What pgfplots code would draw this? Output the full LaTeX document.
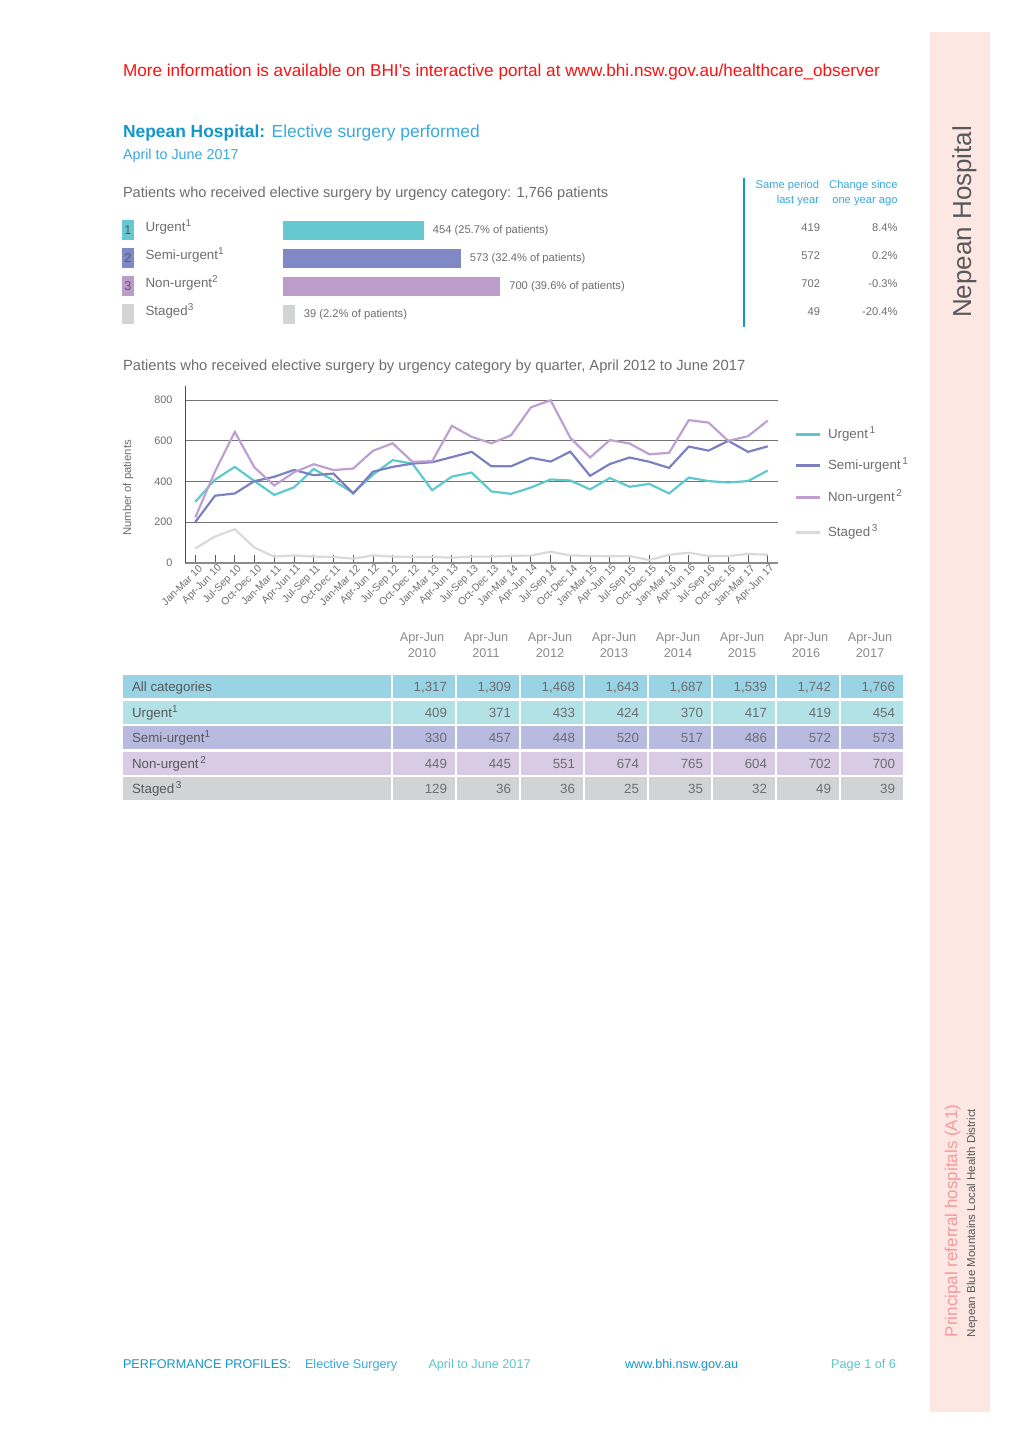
\documentclass[border=0pt]{standalone}
\usepackage{pgfplots}
\usepackage{pgfplotstable}
\pgfplotsset{compat=1.18}
\usepackage{fontspec}
\setmainfont{Liberation Sans}
\newcommand{\fs}[1]{\fontsize{#1}{#1}\selectfont}
\definecolor{urgC}{HTML}{66C8D1}
\definecolor{semiC}{HTML}{8088C5}
\definecolor{nonC}{HTML}{BB9CCB}
\definecolor{stgC}{HTML}{D3D4D6}
\definecolor{urgL}{HTML}{5CC9CF}
\definecolor{semiL}{HTML}{7A80C2}
\definecolor{nonL}{HTML}{BE9FD2}
\definecolor{stgL}{HTML}{DADADA}
\definecolor{allR}{HTML}{9AD3E4}
\definecolor{urgR}{HTML}{B3E2E6}
\definecolor{semiR}{HTML}{B9BAE0}
\definecolor{nonR}{HTML}{D9CBE3}
\definecolor{stgR}{HTML}{D2D3D5}
\definecolor{txt}{HTML}{6D6E71}
\definecolor{dtxt}{HTML}{58595B}
\definecolor{blueT}{HTML}{1596C9}
\definecolor{blueL}{HTML}{3BA9DA}
\definecolor{tealF}{HTML}{5EC6C6}
\definecolor{sideC}{HTML}{FDE7E3}
\definecolor{pinkT}{HTML}{F29A9C}
\definecolor{redT}{HTML}{FF1010}

\pgfplotstableread{
i urg semi non stg
0 300 200 223 70
1 409 330 449 129
2 472 341 644 165
3 402 402 469 74
4 334 423 380 30
5 371 457 445 36
6 462 431 485 30
7 405 439 456 28
8 344 341 464 20
9 433 448 551 36
10 505 472 588 30
11 488 488 497 28
12 357 495 500 28
13 424 520 674 25
14 444 546 620 30
15 351 475 588 30
16 339 475 628 34
17 370 517 765 35
18 410 498 800 54
19 405 547 615 36
20 361 428 518 33
21 417 486 604 32
22 374 518 587 33
23 388 497 534 13
24 341 467 541 39
25 419 572 702 49
26 402 552 690 33
27 395 600 600 33
28 402 546 623 43
29 454 573 700 39
}\quarterly

\begin{document}
\begin{tikzpicture}[x=0.6pt,y=-0.6pt,
  t/.style={anchor=base west, inner sep=0pt, outer sep=0pt},
  te/.style={anchor=base east, inner sep=0pt, outer sep=0pt},
  tc/.style={anchor=base, inner sep=0pt, outer sep=0pt}]
\path[fill=white, use as bounding box] (0,0) rectangle (1020,1443);
\coordinate (BarA) at (282.5,216.3);
\coordinate (LineA) at (185,562.7);
% sidebar
\fill[sideC] (930,32) rectangle (990,1412);
\node[t, rotate=90, text=dtxt, font=\fs{15.6}] at (971,318) {Nepean Hospital};
\node[t, rotate=90, text=pinkT, font=\fs{10.2}] at (957,1337) {Principal referral hospitals (A1)};
\node[t, rotate=90, text=dtxt, font=\fs{6.9}] at (975,1337) {Nepean Blue Mountains Local Health District};

% header
\node[t, text=redT, font=\fs{10.3}] at (123,77) {More information is available on BHI's interactive portal at www.bhi.nsw.gov.au/healthcare\_observer};
\node[t, font=\fs{10.45}] at (123,137.5) {\textcolor{blueT}{\textbf{Nepean Hospital:}} \textcolor{blueL}{Elective surgery performed}};
\node[t, text=blueL, font=\fs{8.6}] at (123,159.5) {April to June 2017};

% top summary
\node[t, text=txt, font=\fs{8.75}] at (123,197.5) {Patients who received elective surgery by urgency category: 1,766 patients};
\foreach \yy/\c/\n/\lab in {230/urgC/1/{Urgent\textsuperscript{1}},258/semiC/2/{Semi-urgent\textsuperscript{1}},286/nonC/3/{Non-urgent\textsuperscript{2}},314/stgC//{Staged\textsuperscript{3}}}{
  \fill[\c] (122,\yy-10) rectangle (134,\yy+10);
  \node[tc, text=dtxt, font=\fs{7.6}] at (128,\yy+4.5) {\n};
  \node[t, text=txt, font=\fs{8}] at (145.5,\yy+1.5) {\lab};
}
\begin{axis}[at={(BarA)}, anchor=north west, scale only axis,
  width=130.5pt, height=67.2pt, xmin=0, xmax=700, ymin=-0.5, ymax=3.5,
  y dir=reverse, hide axis, clip=false, xbar, bar width=11.4pt, bar shift=0pt,
  point meta=explicit symbolic, nodes near coords,
  every node near coord/.style={anchor=west, inner sep=0pt, xshift=5.4pt, font=\fs{6.7}, text=txt}]
\addplot[fill=urgC, draw=none] coordinates {(454,0) [454 (25.7\% of patients)]};
\addplot[fill=semiC, draw=none] coordinates {(573,1) [573 (32.4\% of patients)]};
\addplot[fill=nonC, draw=none] coordinates {(700,2) [700 (39.6\% of patients)]};
\addplot[fill=stgC, draw=none] coordinates {(39,3) [39 (2.2\% of patients)]};
\end{axis}
\draw[blueT, line width=1.3pt] (744,178) -- (744,327);
\node[te, text=blueL, font=\fs{6.7}] at (819,189) {Same period};
\node[te, text=blueL, font=\fs{6.7}] at (819,204) {last year};
\node[te, text=blueL, font=\fs{6.7}] at (897.5,189) {Change since};
\node[te, text=blueL, font=\fs{6.7}] at (897.5,204) {one year ago};
\foreach \yy/\a/\b in {230/419/8.4\%,258/572/0.2\%,286/702/-0.3\%,314/49/-20.4\%}{
  \node[te, text=txt, font=\fs{6.7}] at (820,\yy+2) {\a};
  \node[te, text=txt, font=\fs{6.7}] at (897.5,\yy+2) {\b};
}

% line chart
\node[t, text=txt, font=\fs{8.85}] at (123,371) {Patients who received elective surgery by urgency category by quarter, April 2012 to June 2017};
\node[anchor=base, rotate=90, inner sep=0pt, text=txt, font=\fs{6.8}] at (131,488) {Number of patients};
\begin{axis}[at={(LineA)}, anchor=south west, scale only axis,
  width=355.8pt, height=106pt, xmin=-0.52, xmax=29.52, ymin=0, ymax=870,
  axis x line*=bottom, axis y line*=left,
  axis line style={-},
  x axis line style={draw=black!45, line width=1pt},
  y axis line style={draw=black!70, line width=0.6pt},
  ytick={0,200,400,600,800}, ymajorgrids,
  grid style={draw=black!55, line width=0.5pt},
  xtick={0,...,29},
  xticklabels={Jan-Mar 10,Apr-Jun 10,Jul-Sep 10,Oct-Dec 10,Jan-Mar 11,Apr-Jun 11,Jul-Sep 11,Oct-Dec 11,Jan-Mar 12,Apr-Jun 12,Jul-Sep 12,Oct-Dec 12,Jan-Mar 13,Apr-Jun 13,Jul-Sep 13,Oct-Dec 13,Jan-Mar 14,Apr-Jun 14,Jul-Sep 14,Oct-Dec 14,Jan-Mar 15,Apr-Jun 15,Jul-Sep 15,Oct-Dec 15,Jan-Mar 16,Apr-Jun 16,Jul-Sep 16,Oct-Dec 16,Jan-Mar 17,Apr-Jun 17},
  tick align=inside, major tick length=4.8pt,
  xtick style={draw=black!65, line width=0.5pt},
  ytick style={draw=none},
  /pgf/number format/assume math mode=true,
  xticklabel style={rotate=45, anchor=east, font=\fs{6.2}, text=txt, inner sep=1pt, yshift=-4pt, xshift=1.5pt},
  yticklabel style={font=\fs{6.5}, text=txt, xshift=-4pt},
  clip=false]
\addplot[stgL, line width=1.3pt] table[x=i, y=stg] {\quarterly};
\addplot[urgL, line width=1.3pt] table[x=i, y=urg] {\quarterly};
\addplot[semiL, line width=1.3pt] table[x=i, y=semi] {\quarterly};
\addplot[nonL, line width=1.3pt] table[x=i, y=non] {\quarterly};
\end{axis}
% legend
\foreach \yy/\c/\lab in {434/urgL/{Urgent\textsuperscript{\,1}},465/semiL/{Semi-urgent\textsuperscript{\,1}},497/nonL/{Non-urgent\textsuperscript{\,2}},532/stgL/{Staged\textsuperscript{\,3}}}{
  \draw[\c, line width=1.8pt] (796,\yy) -- (820,\yy);
  \node[t, text=txt, font=\fs{8}] at (828,\yy+4) {\lab};
}

% table
\foreach \i/\yr in {0/2010,1/2011,2/2012,3/2013,4/2014,5/2015,6/2016,7/2017}{
  \node[tc, text=txt!80, font=\fs{7.6}] at (422+64*\i,641) {Apr-Jun};
  \node[tc, text=txt!80, font=\fs{7.6}] at (422+64*\i,657) {\yr};
}
\foreach \yy/\c in {675/allR,701/urgR,726/semiR,752/nonR,777/stgR}{
  \fill[\c] (123,\yy) rectangle (391,\yy+23);
  \foreach \x in {393,457,521,585,649,713,777,841}{
    \fill[\c] (\x,\yy) rectangle (\x+62,\yy+23);
  }
}
\node[t, text=dtxt, font=\fs{8}] at (132,691) {All categories};
\node[t, text=dtxt, font=\fs{8}] at (132,717) {Urgent\textsuperscript{1}};
\node[t, text=dtxt, font=\fs{8}] at (132,742) {Semi-urgent\textsuperscript{1}};
\node[t, text=dtxt, font=\fs{8}] at (132,768) {Non-urgent\textsuperscript{\,2}};
\node[t, text=dtxt, font=\fs{8}] at (132,793) {Staged\textsuperscript{\,3}};
\foreach \v [count=\i from 0] in {{1,317},{1,309},{1,468},{1,643},{1,687},{1,539},{1,742},{1,766}}{
  \node[te, text=txt, font=\fs{8}] at (447+64*\i,691) {\v};}
\foreach \v [count=\i from 0] in {409,371,433,424,370,417,419,454}{
  \node[te, text=txt, font=\fs{8}] at (447+64*\i,717) {\v};}
\foreach \v [count=\i from 0] in {330,457,448,520,517,486,572,573}{
  \node[te, text=txt, font=\fs{8}] at (447+64*\i,742) {\v};}
\foreach \v [count=\i from 0] in {449,445,551,674,765,604,702,700}{
  \node[te, text=txt, font=\fs{8}] at (447+64*\i,768) {\v};}
\foreach \v [count=\i from 0] in {129,36,36,25,35,32,49,39}{
  \node[te, text=txt, font=\fs{8}] at (447+64*\i,793) {\v};}

% footer
\node[t, text=blueT, font=\fs{7.6}] at (123,1368) {PERFORMANCE PROFILES:};
\node[t, text=blueL, font=\fs{7.6}] at (305,1368) {Elective Surgery};
\node[t, text=tealF, font=\fs{7.6}] at (428.5,1368) {April to June 2017};
\node[t, text=blueT, font=\fs{7.6}] at (625,1368) {www.bhi.nsw.gov.au};
\node[te, text=tealF, font=\fs{7.6}] at (896,1368) {Page 1 of 6};
\end{tikzpicture}
\end{document}
